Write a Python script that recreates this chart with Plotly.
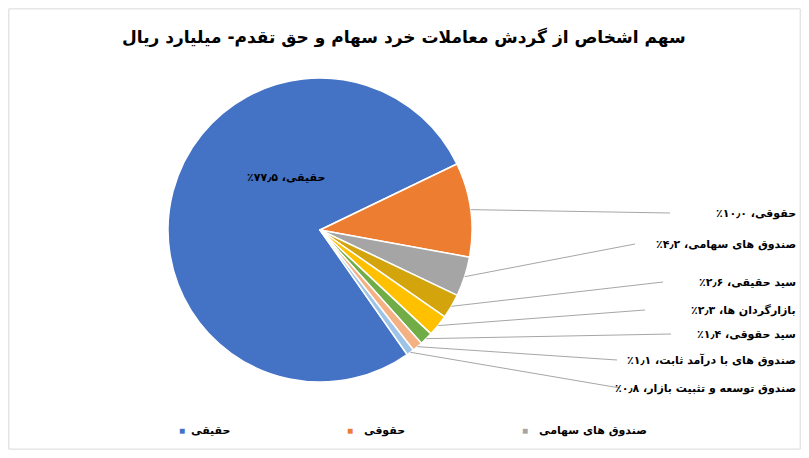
import math
import plotly.graph_objects as go

categories = ["حقیقی", "حقوقی", "صندوق های سهامی", "سید حقیقی", "بازارگردان ها",
              "سید حقوقی", "صندوق های با درآمد ثابت", "صندوق توسعه و تثبیت بازار"]
values = [77.5, 10.0, 4.2, 2.6, 2.3, 1.4, 1.1, 0.8]
value_labels = ["۷۷٫۵٪", "۱۰٫۰٪", "۴٫۲٪", "۲٫۶٪", "۲٫۳٪", "۱٫۴٪", "۱٫۱٪", "۰٫۸٪"]
colors = ["#4472C4", "#ED7D31", "#A5A5A5", "#D4A40C", "#FFC000", "#70AD47", "#F4B183", "#9DC3E6"]
legend_items = 3

OFF = 8  # page body margin
W, H = 809 - 2 * OFF, 458 - 2 * OFF
cx, cy, r = 320, 230, 152
rot = 145
font = "DejaVu Sans"
RLM = "\u200f"


def px(x):
    return (x - OFF) / W


def py(y):
    return 1 - (y - OFF) / H


def rtl(s):
    return RLM + s + RLM


fig = go.Figure(go.Pie(
    labels=categories, values=values, sort=False, direction="clockwise", rotation=rot,
    marker=dict(colors=colors, line=dict(color="white", width=1.5)),
    textinfo="none", hoverinfo="label+percent", showlegend=False,
    domain=dict(x=[px(cx - r), px(cx + r)], y=[py(cy + r), py(cy - r)]),
))

shapes = [dict(type="rect", xref="paper", yref="paper", x0=0.001, y0=0.002, x1=0.999, y1=0.998,
               line=dict(color="#D9D9D9", width=1))]
annotations = [dict(text="<b>سهم اشخاص از گردش معاملات خرد سهام و حق تقدم- میلیارد ریال</b>",
                    x=px(404), y=py(38), xref="paper", yref="paper", yanchor="middle",
                    showarrow=False, font=dict(family=font, size=17, color="#000"))]

annotations.append(dict(text="<b>" + rtl(f"{categories[0]}، {value_labels[0]}") + "</b>",
                        x=px(245), y=py(178), xref="paper", yref="paper", yanchor="middle",
                        showarrow=False, font=dict(family=font, size=11, color="#000")))

label_y = [213, 244, 282, 310, 334, 360, 388]
text_left = [675, 640, 668, 650, 676, 622, 625]
total = sum(values)
cum = 0
for i, v in enumerate(values):
    mid = rot + (cum + v / 2) / total * 360
    cum += v
    if i == 0:
        continue
    a = math.radians(mid)
    ex, ey = cx + r * math.sin(a), cy - r * math.cos(a)
    ly = label_y[i - 1]
    lx = text_left[i - 1] - 5
    shapes.append(dict(type="line", xref="paper", yref="paper",
                       x0=px(ex), y0=py(ey), x1=px(lx), y1=py(ly),
                       line=dict(color="#A6A6A6", width=1)))
    annotations.append(dict(text="<b>" + rtl(f"{categories[i]}، {value_labels[i]}") + "</b>",
                            x=px(798), y=py(ly), xref="paper", yref="paper", xanchor="right",
                            yanchor="middle", showarrow=False,
                            font=dict(family=font, size=11, color="#000")))

leg_x = [177, 350, 525]
for i in range(legend_items):
    annotations.append(dict(text="■", x=px(leg_x[i]), y=py(430), xref="paper", yref="paper",
                            yanchor="middle", showarrow=False, font=dict(size=10, color=colors[i])))
    annotations.append(dict(text="<b>" + categories[i] + "</b>", x=px(leg_x[i] + 12), y=py(430),
                            xref="paper", yref="paper", xanchor="left", yanchor="middle",
                            showarrow=False, font=dict(family=font, size=11, color="#000")))

fig.update_layout(width=W, height=H, margin=dict(l=0, r=0, t=0, b=0),
                  paper_bgcolor="white", shapes=shapes, annotations=annotations)
fig.write_html("out.html")
